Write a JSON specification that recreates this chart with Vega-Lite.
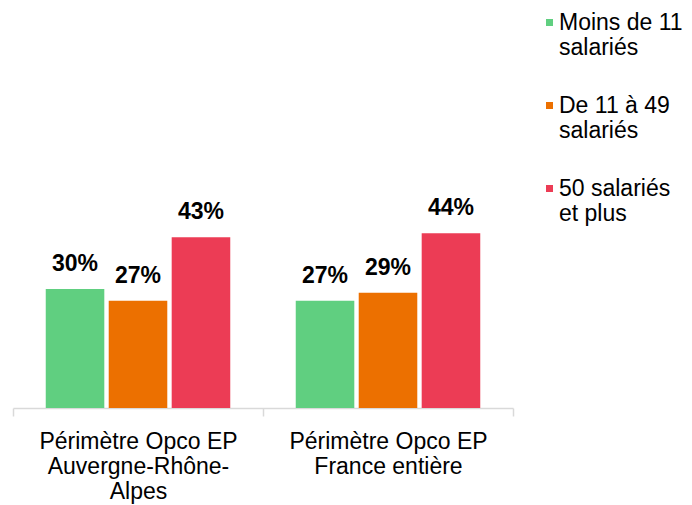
{
  "$schema": "https://vega.github.io/schema/vega-lite/v6.json",
  "width": 500,
  "height": 397,
  "autosize": {"type": "none"},
  "padding": {"left": 13, "top": 11, "right": 179, "bottom": 97},
  "background": "white",
  "config": {
    "view": {"stroke": null},
    "font": "Liberation Sans"
  },
  "data": {
    "values": [
      {"perimetre": "Périmètre Opco EP Auvergne-Rhône-Alpes", "taille": "Moins de 11 salariés", "part": 0.30},
      {"perimetre": "Périmètre Opco EP Auvergne-Rhône-Alpes", "taille": "De 11 à 49 salariés", "part": 0.27},
      {"perimetre": "Périmètre Opco EP Auvergne-Rhône-Alpes", "taille": "50 salariés et plus", "part": 0.43},
      {"perimetre": "Périmètre Opco EP France entière", "taille": "Moins de 11 salariés", "part": 0.27},
      {"perimetre": "Périmètre Opco EP France entière", "taille": "De 11 à 49 salariés", "part": 0.29},
      {"perimetre": "Périmètre Opco EP France entière", "taille": "50 salariés et plus", "part": 0.44}
    ]
  },
  "layer": [
    {
      "mark": {"type": "bar"},
      "encoding": {
        "x": {
          "field": "perimetre",
          "type": "nominal",
          "sort": null,
          "scale": {"paddingInner": 0, "paddingOuter": 0},
          "axis": {
            "title": null,
            "labelAngle": 0,
            "domainColor": "#d9d9d9",
            "domainWidth": 1.5,
            "tickColor": "#d9d9d9",
            "tickWidth": 1.5,
            "tickSize": 8,
            "tickBand": "extent",
            "labelFontSize": 23,
            "labelColor": "#000000",
            "labelPadding": 14,
            "labelLimit": 300,
            "labelExpr": "datum.value == 'Périmètre Opco EP Auvergne-Rhône-Alpes' ? ['Périmètre Opco EP', 'Auvergne-Rhône-', 'Alpes'] : datum.value == 'Périmètre Opco EP France entière' ? ['Périmètre Opco EP', 'France entière'] : ''"
          }
        },
        "xOffset": {
          "field": "taille",
          "type": "nominal",
          "sort": null,
          "scale": {"paddingInner": 0.07, "paddingOuter": 0.52}
        },
        "y": {
          "field": "part",
          "type": "quantitative",
          "scale": {"domain": [0, 1]},
          "axis": null
        },
        "color": {
          "field": "taille",
          "type": "nominal",
          "sort": null,
          "scale": {
            "domain": ["Moins de 11 salariés", "De 11 à 49 salariés", "50 salariés et plus"],
            "range": ["#60cf80", "#ec7000", "#ec3c55"]
          },
          "legend": {
            "title": null,
            "orient": "none",
            "legendX": 525,
            "legendY": 0,
            "padding": 0,
            "symbolType": "square",
            "symbolSize": 49,
            "symbolStrokeWidth": 0,
            "labelOffset": -2,
            "labelFontSize": 23,
            "labelColor": "#000000",
            "labelLimit": 300,
            "rowPadding": 34,
            "labelExpr": "datum.label == 'Moins de 11 salariés' ? ['Moins de 11', 'salariés'] : datum.label == 'De 11 à 49 salariés' ? ['De 11 à 49', 'salariés'] : datum.label == '50 salariés et plus' ? ['50 salariés', 'et plus'] : ''"
          }
        }
      }
    },
    {
      "mark": {"type": "text", "dy": -18, "baseline": "alphabetic", "fontSize": 23, "fontWeight": "bold", "color": "#000000"},
      "encoding": {
        "x": {"field": "perimetre", "type": "nominal", "sort": null},
        "xOffset": {"field": "taille", "type": "nominal", "sort": null},
        "y": {"field": "part", "type": "quantitative"},
        "text": {"field": "part", "type": "quantitative", "format": ".0%"}
      }
    }
  ]
}
